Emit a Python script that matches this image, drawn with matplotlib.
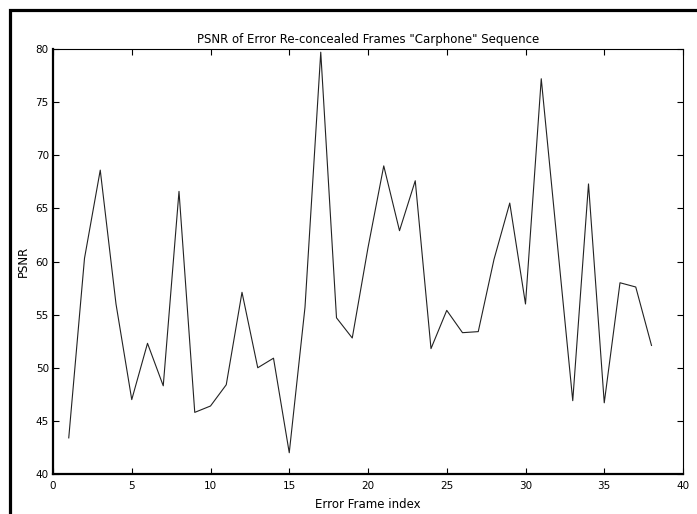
import matplotlib.pyplot as plt
from matplotlib.patches import Rectangle

# PSNR per error frame
frame_idx = list(range(1, 39))
psnr = [43.4, 60.3, 68.6, 56.0, 47.0, 52.3, 48.3, 66.6, 45.8, 46.4,
        48.4, 57.1, 50.0, 50.9, 42.0, 55.7, 79.7, 54.7, 52.8, 61.3,
        69.0, 62.9, 67.6, 51.8, 55.4, 53.3, 53.4, 60.2, 65.5, 56.0,
        77.2, 62.0, 46.9, 67.3, 46.7, 58.0, 57.6, 52.1]

x_ticks = [0, 5, 10, 15, 20, 25, 30, 35, 40]
y_ticks = [40, 45, 50, 55, 60, 65, 70, 75, 80]

W, H = 697, 514
fig = plt.figure(figsize=(W / 100, H / 100), dpi=100)
ax = fig.add_axes([53 / W, 1 - 474 / H, (683 - 53) / W, (474 - 49) / H])

ax.plot(frame_idx, psnr, color='#222222', linewidth=0.8)

ax.set_xlim(0, 40)
ax.set_ylim(40, 80)
ax.set_xticks(x_ticks)
ax.set_yticks(y_ticks)
ax.tick_params(direction='in', top=True, right=True, length=4, width=0.8,
               labelsize=7.5)
ax.tick_params(axis='x', pad=5)
ax.tick_params(axis='y', pad=3)

for side in ['bottom', 'left']:
    ax.spines[side].set_linewidth(1.6)
for side in ['top', 'right']:
    ax.spines[side].set_linewidth(0.8)

ax.set_title('PSNR of Error Re-concealed Frames "Carphone" Sequence',
             fontsize=8.5, pad=4)
ax.set_xlabel('Error Frame index', fontsize=8.5, labelpad=5)
ax.set_ylabel('PSNR', fontsize=8.5, labelpad=4)

# thick outer frame, cropped at the right and bottom like the reference
fig.patches.append(Rectangle((9.5 / W, -0.1), 1.2, 1 - 9.5 / H + 0.1,
                             transform=fig.transFigure, fill=False,
                             edgecolor='black', linewidth=2.3))

fig.savefig('out.png', dpi=100)
